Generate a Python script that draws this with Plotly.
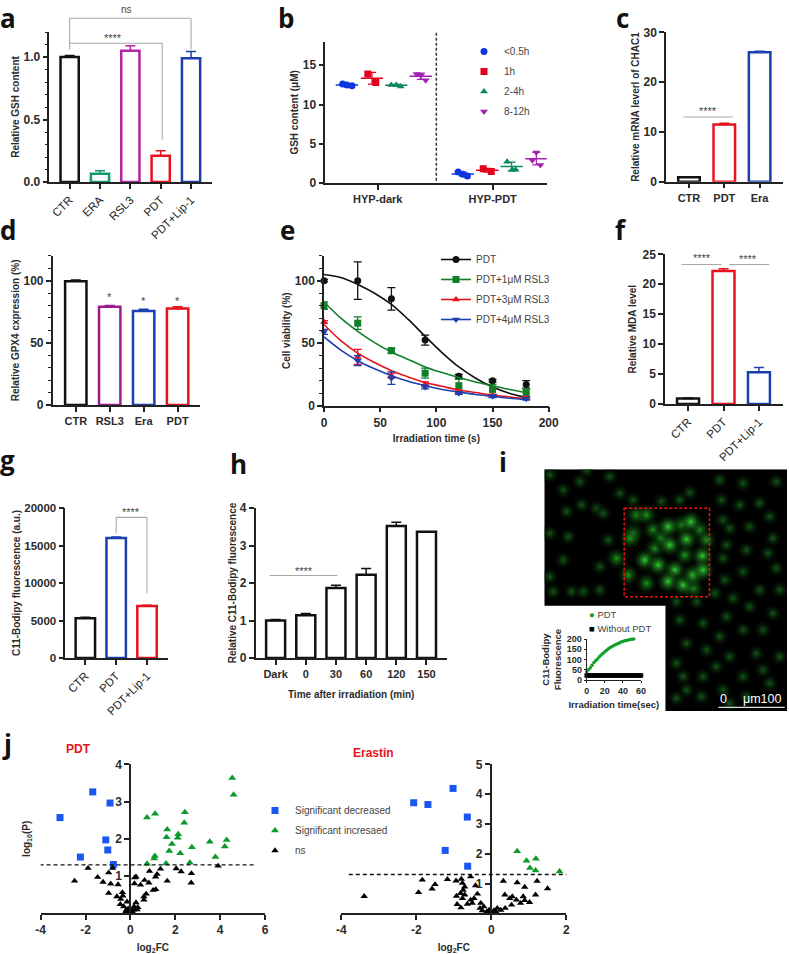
import plotly.graph_objects as go

W, H = 789, 954
FONT = "Liberation Sans"
INK = "#2b2b2b"
GREY = "#a8a8a8"
BLACK, GREEN, MAGENTA, RED, BLUE, PURPLE = "#111111", "#12996E", "#B5259F", "#E8121E", "#1B3FAE", "#9B1B8E"

# ---- panel a
a_labels = ["CTR", "ERA", "RSL3", "PDT", "PDT+Lip-1"]
a_values = [1.0, 0.065, 1.05, 0.21, 0.99]
a_errors = [0.012, 0.025, 0.04, 0.04, 0.055]
a_colors = [BLACK, GREEN, MAGENTA, RED, BLUE]
# ---- panel b
b_names = ["<0.5h", "1h", "2-4h", "8-12h"]
b_x = [[-0.305, -0.268, -0.224, 0.70, 0.74, 0.78], [-0.086, -0.017, 0.918, 0.988],
       [0.117, 0.161, 0.20, 1.126, 1.17, 1.20], [0.338, 0.375, 0.417, 1.345, 1.38, 1.415]]
b_y = [[12.6, 12.5, 12.4, 1.4, 1.1, 0.9], [13.9, 12.8, 1.8, 1.45],
       [12.5, 12.5, 12.3, 2.7, 1.7, 1.7], [13.9, 13.7, 13.1, 2.9, 3.9, 2.3]]
b_mean_x = [[-0.268, 0.74], [-0.05, 0.953], [0.161, 1.165], [0.375, 1.38]]
b_mean_y = [[12.5, 1.15], [13.35, 1.62], [12.45, 2.1], [13.6, 3.1]]
b_sd = [[0.1, 0.25], [0.75, 0.25], [0.12, 0.55], [0.4, 0.8]]
b_colors = ["#0D36E0", "#E3001B", "#0B8A62", "#A020B0"]
b_symbols = ["circle", "square", "triangle-up", "triangle-down"]
# ---- panel c
c_labels = ["CTR", "PDT", "Era"]
c_values = [0.9, 11.5, 26.0]
c_errors = [0.1, 0.25, 0.2]
c_colors = [BLACK, RED, BLUE]
# ---- panel d
d_labels = ["CTR", "RSL3", "Era", "PDT"]
d_values = [99.5, 79.0, 75.5, 77.5]
d_errors = [1.0, 1.0, 1.5, 1.5]
d_colors = [BLACK, PURPLE, BLUE, RED]
# ---- panel e
e_names = ["PDT", "PDT+1μM RSL3", "PDT+3μM RSL3", "PDT+4μM RSL3"]
e_time = [0, 30, 60, 90, 120, 150, 180]
e_values = [[100, 100, 85.5, 52.5, 23.5, 20, 17], [80, 66, 44, 26, 16, 13, 10.5],
            [67, 39, 24, 17, 11, 8, 6], [59, 36, 22, 15, 10, 7.5, 5.5]]
e_errors = [[1, 15, 9, 4, 1.5, 1, 3], [3, 5, 2, 4, 5, 4, 3], [1, 6, 2, 2, 1.5, 1, 1], [2, 4, 5, 1.5, 1, 1, 1]]
e_fit_time = [0, 15, 30, 45, 60, 75, 90, 105, 120, 135, 150, 165, 180]
e_fits = [[105, 102.5, 97, 90, 81, 69, 55.5, 42.5, 31, 22, 15, 10, 6.5],
          [83, 70, 59.5, 50.5, 43, 37, 31, 26.5, 22.5, 19, 16, 13, 10.5],
          [65, 52, 42, 34.5, 28, 23, 18.5, 15.5, 12.5, 10.5, 8.5, 7, 5.5],
          [55, 44.5, 36, 29.5, 24, 19.5, 16, 13, 11, 9, 7.5, 6, 5]]
e_colors = ["#111111", "#0F7F2A", "#E8121E", "#1B3FAE"]
e_symbols = ["circle", "square", "triangle-up", "triangle-down"]
# ---- panel f
f_labels = ["CTR", "PDT", "PDT+Lip-1"]
f_values = [0.9, 22.2, 5.3]
f_errors = [0.1, 0.4, 0.8]
f_colors = [BLACK, RED, BLUE]
# ---- panel g
g_labels = ["CTR", "PDT", "PDT+Lip-1"]
g_values = [5300, 16000, 6950]
g_errors = [150, 150, 100]
g_colors = [BLACK, BLUE, RED]
# ---- panel h
h_labels = ["Dark", "0", "30", "60", "120", "150"]
h_values = [1.0, 1.14, 1.87, 2.22, 3.52, 3.37]
h_errors = [0.03, 0.05, 0.07, 0.17, 0.1, 0.0]
# ---- panel i (inset curve + image blobs, image-crop coordinates)
i_time = list(range(0, 62, 2))
i_pdt = [40, 50, 60, 72, 85, 95, 103, 113, 122, 130, 138, 145, 152, 158, 163, 168, 173, 177, 181, 185, 188,
         191, 193, 195, 197, 199, 200, 202, 203, 205, 206]
i_ctrl = [22, 22, 22, 22, 22, 22, 22, 22, 22, 22, 22, 22, 22, 22, 22, 22, 22, 22, 22, 22, 22, 22, 22, 22, 22,
          22, 22, 22, 22, 22, 22]
bright_x = [345, 385, 420, 415, 470, 483, 518, 435, 415, 460, 490, 520]
bright_y = [330, 345, 285, 230, 268, 215, 318, 360, 395, 405, 375, 360]
mid_x = [375, 350, 310, 320, 350, 300, 295, 465, 370, 510, 490, 530, 260, 455, 395]
mid_y = [295, 400, 250, 195, 195, 265, 375, 315, 240, 240, 415, 270, 325, 225, 265]
dim_x = [60, 150, 155, 110, 60, 115, 200, 220, 235, 100, 60, 125, 70, 210, 210, 160, 480, 310, 395, 450, 575, 630,
         690, 740, 640, 570, 720, 580, 600, 660, 730, 590, 650, 715, 580, 640, 740, 585, 690, 750, 610, 555, 500,
         440, 660, 730, 590, 450, 520, 640, 700, 570, 470, 530, 680, 600, 440, 750, 520, 640, 470, 580, 720, 440,
         600, 700, 560, 460, 515, 650, 270, 170, 100, 240]
dim_y = [75, 95, 165, 185, 250, 260, 175, 190, 270, 330, 380, 425, 425, 350, 420, 425, 128, 150, 155, 150, 150, 165,
         160, 95, 100, 90, 200, 210, 235, 230, 265, 285, 300, 310, 325, 365, 355, 390, 420, 420, 445, 430, 455,
         455, 470, 490, 500, 510, 520, 540, 540, 560, 580, 600, 610, 620, 640, 620, 680, 680, 720, 720, 700, 745,
         760, 660, 650, 680, 740, 740, 130, 60, 120, 80]
# ---- panel j
j1_dec_x = [-1.68, -0.91, -3.14, -1.10, -1.01, -2.23, -0.76]
j1_dec_y = [3.26, 2.96, 2.57, 1.97, 1.70, 1.51, 1.31]
j1_inc_x = [4.54, 4.60, 2.43, 1.10, 0.74, 2.40, 1.64, 2.13, 2.11, 1.61, 1.85, 1.73, 2.22, 2.74, 3.54, 4.29, 4.21, 3.79,
            2.65, 1.59, 1.09, 1.06, 0.74]
j1_inc_y = [3.63, 3.18, 2.71, 2.67, 2.57, 2.43, 2.25, 2.12, 2.03, 2.04, 1.86, 1.67, 1.61, 1.77, 1.92, 1.97, 1.79, 1.51,
            1.36, 1.34, 1.54, 1.47, 1.33]
j1_ns_x = [-1.89, -0.79, -0.97, -1.46, -1.22, -2.49, -0.88, -0.55, -0.97, -0.60, -0.36, -0.34, -0.43, -0.45, -0.15, -0.30,
           -0.18, -0.07, 0, 0.07, 0.15, 0.25, 0.33, 0.16, 0.60, 0.70, 0.60, 1.01, 1.13, 0.82, 0.63, 0.45, 0.18, 0.25, 0.19,
           1.12, 1.19, 1.34, 0.85, 1.64, 2.04, 2.26, 2.72, 2.71, 3.91, -0.2, 0.1, -0.1, 0.05, 0.3]
j1_ns_y = [1.21, 1.21, 1.09, 0.97, 0.84, 0.87, 0.79, 0.77, 0.54, 0.45, 0.56, 0.47, 0.38, 0.24, 0.31, 0.18,
           0.09, 0.04, 0.01, 0.04, 0.09, 0.29, 0.16, 0.18, 0.36, 0.52, 0.45, 0.62, 0.64, 0.82, 0.89, 0.76, 0.80, 0.98, 0.96,
           0.98, 1.05, 1.19, 1.13, 0.87, 1.20, 1.12, 1.07, 0.82, 1.27, 0.05, 0.03, 0.12, 0.08, 0.1]
j2_dec_x = [-1.02, -2.07, -1.69, -0.64, -1.23, -0.63]
j2_dec_y = [4.19, 3.71, 3.65, 3.23, 2.11, 1.58]
j2_inc_x = [0.69, 0.94, 1.19, 1.03, 1.18, 1.82]
j2_inc_y = [2.08, 1.76, 1.83, 1.52, 1.44, 1.40]
j2_ns_x = [-3.39, -1.94, -1.84, -1.50, -1.58, -1.17, -0.94, -0.80, -0.77, -0.71, -0.55, -0.42, -0.75, -0.82, -0.93, -0.71,
           -0.77, -0.91, -0.81, -0.64, -0.55, -0.46, -0.37, -0.51, -0.28, -0.30, -0.20, -0.24, -0.12, -0.06, 0, 0.05, 0.12,
           0.16, 0.25, 0.37, 0.32, 0.69, 0.89, 1.22, 1.50, 1.18, 0.36, 0.49, 0.56, 0.54, 0.67, 0.78, 0.85, 0.89, 1.02,
           -0.06, 0.07]
j2_ns_y = [0.57, 0.70, 1.12, 0.97, 0.82, 1.14, 1.09, 1.15, 1.01, 0.89, 1.23, 0.93, 0.78, 0.67, 0.58, 0.62,
           0.50, 0.30, 0.19, 0.31, 0.45, 0.50, 0.65, 0.34, 0.34, 0.17, 0.22, 0.09, 0.06, 0.01, 0, 0.02, 0.06,
           0.17, 0.11, 0.17, 1.08, 1.03, 0.88, 1.08, 0.83, 0.62, 0.62, 0.50, 0.56, 0.28, 0.45, 0.34, 0.56, 0.43, 0.37,
           0.11, 0.09]
j_threshold = 1.3
j_colors = {"dec": "#1A56F0", "inc": "#0A9A2A", "ns": "#000000"}

fig = go.Figure()
layout = dict(width=W, height=H, margin=dict(l=0, r=0, t=0, b=0), autosize=False, showlegend=True,
              paper_bgcolor="white", plot_bgcolor="rgba(0,0,0,0)", barmode="overlay",
              font=dict(family=FONT, color=INK, size=11))
shapes, notes = [], []
panels = {}


def ax_names(i):
    return ("xaxis" if i == 1 else f"xaxis{i}"), ("yaxis" if i == 1 else f"yaxis{i}")


def axes(i, box, xr, yr, xticks=None, xlabels=None, yticks=None, xangle=0, minor=None, xtitle=None, ytitle=None,
         xstand=6, ystand=6, tickfont=12, xfont=11, ytitlefont=None, xtitlefont=None, lw=1.5, ticklen=5, yfree=None):
    x0, x1, top, bot = box
    panels[i] = dict(box=box, xr=xr, yr=yr)
    xn, yn = ax_names(i)
    base = dict(showline=True, linecolor="#222222", linewidth=lw, ticks="outside", tickcolor="#222222", tickwidth=lw,
                ticklen=ticklen, showgrid=False, zeroline=False, automargin=False)
    xa = dict(base, domain=[x0 / W, x1 / W], range=xr, anchor=f"y{i}", tickmode="array", tickvals=xticks,
              ticktext=xlabels if xlabels else [str(v) for v in xticks], tickangle=xangle,
              tickfont=dict(size=xfont if xangle == 0 else 11.5, weight="bold" if xangle == 0 else "normal",
                            color=INK if xangle == 0 else "#1c1c1c"))
    ya = dict(base, domain=[1 - bot / H, 1 - top / H], range=yr, anchor=f"x{i}", tickmode="array", tickvals=yticks,
              ticktext=[str(v) for v in yticks], tickfont=dict(size=tickfont, weight="bold", color=INK))
    if minor:
        ya["minor"] = dict(dtick=minor, ticks="outside", ticklen=3, tickwidth=1, tickcolor="#222222", showgrid=False)
    if xtitle:
        xa["title"] = dict(text=xtitle, standoff=xstand, font=xtitlefont or dict(size=10, weight="bold", color=INK))
    if ytitle:
        ya["title"] = dict(text=ytitle, standoff=ystand, font=ytitlefont or dict(size=10, weight="bold", color=INK))
    if yfree is not None:
        ya["anchor"] = "free"
        ya["position"] = yfree / W
    layout[xn], layout[yn] = xa, ya


def py(i, v):
    """axis value -> paper fraction (used so marks above the axis range are not clipped)"""
    _, _, top, bot = panels[i]["box"]
    lo, hi = panels[i]["yr"]
    return 1 - (bot - (v - lo) / (hi - lo) * (bot - top)) / H


def bracket(i, xs, ys, color=GREY, width=1.1, dash="solid"):
    xref = "x" if i == 1 else f"x{i}"
    for k in range(len(xs) - 1):
        shapes.append(dict(type="line", xref=xref, yref="paper", x0=xs[k], x1=xs[k + 1], y0=py(i, ys[k]),
                           y1=py(i, ys[k + 1]), line=dict(color=color, width=width, dash=dash)))


def note(i, x, y, text, size=12, color="#444444", weight="normal"):
    xref = "x" if i == 1 else f"x{i}"
    notes.append(dict(xref=xref, yref="paper", x=x, y=py(i, y), text=text, showarrow=False, xanchor="center",
                      yanchor="middle", font=dict(size=size, color=color, weight=weight)))


def letter(ch, x, y):
    notes.append(dict(xref="paper", yref="paper", x=x / W, y=1 - y / H, text=ch, showarrow=False, xanchor="center",
                      yanchor="middle", font=dict(family="Open Sans", size=26, weight="bold", color="#111111")))


def bars(i, values, errors, colors, width):
    xn = "x" if i == 1 else f"x{i}"
    yn = "y" if i == 1 else f"y{i}"
    for k, (v, e, c) in enumerate(zip(values, errors, colors)):
        fig.add_trace(go.Bar(x=[k], y=[v], width=width, xaxis=xn, yaxis=yn, showlegend=False,
                             marker=dict(color="white", line=dict(color=c, width=2.5)),
                             error_y=dict(type="data", symmetric=False, array=[e], arrayminus=[0], color=c,
                                          thickness=1.5, width=5)))


# panel a
axes(1, (49.3, 212, 32, 182), [-0.67, 4.69], [0, 1.2], list(range(5)), a_labels, [0, 0.5, 1.0], xangle=-45, minor=0.1,
     ytitle="Relative GSH content", ystand=2)
layout["yaxis"]["ticktext"] = ["0.0", "0.5", "1.0"]
bars(1, a_values, a_errors, a_colors, 0.6)
bracket(1, [0, 0, 4, 4], [1.06, 1.31, 1.31, 1.06])
bracket(1, [0, 3.05, 3.05], [1.11, 1.11, 0.34])
note(1, 1.86, 1.38, "ns", 10)
note(1, 1.44, 1.15, "****", 11)

# panel b
axes(2, (325.3, 546.7, 41.7, 183), [-0.456, 1.47], [0, 18], [0, 1], ["HYP-dark", "HYP-PDT"], [0, 5, 10, 15],
     ytitle="GSH content (μM)", ystand=2)
for k in range(4):
    fig.add_trace(go.Scatter(x=b_x[k], y=b_y[k], mode="markers", name=b_names[k], xaxis="x2", yaxis="y2",
                             marker=dict(color=b_colors[k], symbol=b_symbols[k], size=7),
                             legend="legend", legendgroup=b_names[k]))
    fig.add_trace(go.Scatter(x=b_mean_x[k], y=b_mean_y[k], mode="markers", showlegend=False, xaxis="x2", yaxis="y2",
                             marker=dict(symbol="line-ew", size=16, line=dict(color=b_colors[k], width=1.5)),
                             error_y=dict(type="data", array=b_sd[k], color=b_colors[k], thickness=1.2, width=4)))
bracket(2, [0.51, 0.51], [0.3, 19.2], color="#333333", width=1.5, dash="3px,2px")
layout["legend"] = dict(x=464 / W, y=1 - 37 / H, xanchor="left", yanchor="top", bgcolor="rgba(0,0,0,0)",
                        font=dict(size=10, color="#444444"), tracegroupgap=1, itemwidth=30)

# panel c
axes(3, (666, 783.3, 32.3, 181.7), [-0.65, 2.67], [0, 30], list(range(3)), c_labels, [0, 10, 20, 30],
     ytitle="Relative mRNA leverl of CHAC1", ystand=2)
bars(3, c_values, c_errors, c_colors, 0.61)
bracket(3, [-0.16, 1.24], [13, 13])
note(3, 0.53, 14.2, "****", 11)

# panel d
axes(4, (52.7, 200, 255.7, 405), [-0.68, 3.66], [0, 120], list(range(4)), d_labels, [0, 50, 100], minor=10,
     ytitle="Relative GPX4 cxpression (%)", ystand=2)
bars(4, d_values, d_errors, d_colors, 0.63)
for xv, yv in zip([1, 2, 3], [86.5, 83.5, 83.5]):
    note(4, xv, yv, "*", 11)

# panel e
axes(5, (324, 548.7, 255.7, 405.7), [0, 200], [0, 120], [0, 50, 100, 150, 200], None, [0, 50, 100], minor=10,
     xtitle="Irradiation time (s)", ytitle="Cell viability (%)", xstand=6, ystand=2, xfont=12)
for k in range(4):
    fig.add_trace(go.Scatter(x=e_fit_time, y=e_fits[k], mode="lines", line=dict(color=e_colors[k], width=1.6, shape="spline"),
                             showlegend=False, xaxis="x5", yaxis="y5"))
    fig.add_trace(go.Scatter(x=e_time, y=e_values[k], mode="markers", showlegend=False, xaxis="x5", yaxis="y5", cliponaxis=False,
                             marker=dict(color=e_colors[k], symbol=e_symbols[k], size=7),
                             error_y=dict(type="data", array=e_errors[k], color=e_colors[k], thickness=1.3, width=4)))
    fig.add_trace(go.Scatter(x=[None], y=[None], mode="lines+markers", name=e_names[k], xaxis="x5", yaxis="y5",
                             line=dict(color=e_colors[k], width=1.6), marker=dict(color=e_colors[k], symbol=e_symbols[k], size=7),
                             legend="legend2", legendgroup="e" + e_names[k]))
layout["legend2"] = dict(x=436 / W, y=1 - 245 / H, xanchor="left", yanchor="top", bgcolor="rgba(0,0,0,0)",
                         font=dict(size=10, color="#444444"), tracegroupgap=1, itemwidth=30)

# panel f
axes(6, (665, 782.7, 254.3, 404), [-0.65, 2.67], [0, 25], list(range(3)), f_labels, [0, 5, 10, 15, 20, 25], xangle=-45,
     ytitle="Relative MDA level", ystand=4)
bars(6, f_values, f_errors, f_colors, 0.62)
bracket(6, [-0.18, 0.94], [23.3, 23.3])
bracket(6, [1.16, 2.29], [23.3, 23.3])
note(6, 0.38, 24.3, "****", 11)
note(6, 1.7, 24.2, "****", 11)

# panel g
axes(7, (65.3, 168.3, 508, 658), [-0.65, 2.69], [0, 20000], list(range(3)), g_labels, [0, 5000, 10000, 15000, 20000], xangle=-45,
     ytitle="C11-Bodipy fluorescence (a.u.)", ystand=2, tickfont=11.5)
bars(7, g_values, g_errors, g_colors, 0.63)
bracket(7, [1, 1, 2, 2], [16620, 18750, 18750, 8620])
note(7, 1.48, 19500, "****", 11)

# panel h
axes(8, (255.7, 446.7, 508, 658), [-0.66, 5.67], [0, 4], list(range(6)), h_labels, [0, 1, 2, 3, 4],
     xtitle="Time after irradiation (min)", ytitle="Relative C11-Bodipy fluorescence", xstand=12, ystand=1)
bars(8, h_values, h_errors, [BLACK] * 6, 0.63)
bracket(8, [-0.19, 2.05], [2.2, 2.2])
note(8, 0.95, 2.33, "****", 11)

# panel i image
axes(9, (544.3, 787, 469.3, 711), [43, 772], [783, 58], [], [], [])
layout["xaxis9"].update(visible=False)
layout["yaxis9"].update(visible=False)
shapes.append(dict(type="path", xref="x9", yref="y9", layer="below", line=dict(width=0), fillcolor="#000000",
                   path="M 43 58 H 772 V 783 H 407 V 467 H 43 Z"))
for cx, cy, col, sz in [(dim_x, dim_y, "rgb(20,90,24)", 20), (mid_x, mid_y, "rgb(28,150,30)", 25),
                        (bright_x, bright_y, "rgb(50,205,50)", 26)]:
    fig.add_trace(go.Scatter(x=cx, y=cy, mode="markers", showlegend=False, xaxis="x9", yaxis="y9",
                             marker=dict(color="rgba(0,0,0,0)", size=sz, line=dict(width=0),
                                         gradient=dict(type="radial", color=col))))
shapes.append(dict(type="rect", xref="x9", yref="y9", x0=283, x1=539, y0=175, y1=440,
                   line=dict(color="#F01010", width=1.5, dash="3px,2px")))
shapes.append(dict(type="line", xref="x9", yref="y9", x0=566, x1=765, y0=772, y1=772, line=dict(color="#dddddd", width=1.2)))
notes.append(dict(xref="x9", yref="y9", x=582, y=747, text="0", showarrow=False, font=dict(size=12.5, color="white")))
notes.append(dict(xref="x9", yref="y9", x=697, y=747, text="μm100", showarrow=False, font=dict(size=12.5, color="white")))

# panel i inset
axes(10, (586.7, 641, 639, 680), [0, 60], [0, 200], [0, 20, 40, 60], None, [0, 50, 100, 150, 200],
     xtitle="Irradiation time(sec)", ytitle="C11-Bodipy<br>Fluorescence", tickfont=9, xfont=9, lw=1, ticklen=2, xstand=6, ystand=3,
     xtitlefont=dict(size=9.5, weight="bold", color=INK), ytitlefont=dict(size=9.5, weight="bold", color=INK))
fig.add_trace(go.Scatter(x=i_time, y=i_pdt, mode="markers", name="PDT", xaxis="x10", yaxis="y10", cliponaxis=False,
                         marker=dict(color="#12A02A", size=3.5), showlegend=False))
fig.add_trace(go.Scatter(x=i_time, y=i_ctrl, mode="markers", name="Without PDT", xaxis="x10", yaxis="y10", cliponaxis=False,
                         marker=dict(color="#000000", size=4.5, symbol="square"), showlegend=False))
notes.append(dict(xref="x9", yref="y9", x=172, y=495, xanchor="left", showarrow=False,
                  text="<span style='color:#12A02A'>●</span> PDT", font=dict(size=9.5, color="#444444")))
notes.append(dict(xref="x9", yref="y9", x=172, y=537, xanchor="left", showarrow=False,
                  text="<span style='color:#000000'>■</span> Without PDT", font=dict(size=9.5, color="#444444")))

# panel j left
axes(11, (40.7, 265, 764.3, 913.3), [-4, 6], [0, 4], [-4, -2, 0, 2, 4, 6], None, [1, 2, 3, 4], yfree=130,
     xtitle="log<sub>2</sub>FC", ytitle="log<sub>10</sub>(P)", xstand=8, ystand=82, xfont=12)
# panel j right
axes(12, (341.3, 566.3, 764.3, 913.3), [-4, 2], [0, 5], [-4, -2, 0, 2], None, [1, 2, 3, 4, 5], yfree=490.7,
     xtitle="log<sub>2</sub>FC", xstand=8, xfont=12)
for i, dx, dy, ix, iy, nx, ny, xend, show in [
    (11, j1_dec_x, j1_dec_y, j1_inc_x, j1_inc_y, j1_ns_x, j1_ns_y, [-4.05, 5.5], True),
    (12, j2_dec_x, j2_dec_y, j2_inc_x, j2_inc_y, j2_ns_x, j2_ns_y, [-3.8, 2.13], False)]:
    xa, ya = f"x{i}", f"y{i}"
    bracket(i, xend, [j_threshold, j_threshold], color="#111111", width=1.4, dash="4px,3px")
    fig.add_trace(go.Scatter(x=dx, y=dy, mode="markers", name="Significant decreased", xaxis=xa, yaxis=ya, showlegend=show,
                             cliponaxis=False, marker=dict(color=j_colors["dec"], symbol="square", size=7),
                             legend="legend4", legendgroup="jdec"))
    fig.add_trace(go.Scatter(x=ix, y=iy, mode="markers", name="Significant incresaed", xaxis=xa, yaxis=ya, showlegend=show,
                             cliponaxis=False, marker=dict(color=j_colors["inc"], symbol="triangle-up", size=7),
                             legend="legend4", legendgroup="jinc"))
    fig.add_trace(go.Scatter(x=nx, y=ny, mode="markers", name="ns", xaxis=xa, yaxis=ya, showlegend=show,
                             cliponaxis=False, marker=dict(color=j_colors["ns"], symbol="triangle-up", size=6.5),
                             legend="legend4", legendgroup="jns"))
layout["legend4"] = dict(x=255 / W, y=1 - 796 / H, xanchor="left", yanchor="top", bgcolor="rgba(0,0,0,0)",
                         font=dict(size=10, color="#444444"), tracegroupgap=1, itemwidth=30)
notes.append(dict(xref="paper", yref="paper", x=64 / W, y=1 - 758 / H, text="PDT", showarrow=False,
                  font=dict(size=12, weight="bold", color="#E8121E")))
notes.append(dict(xref="paper", yref="paper", x=373 / W, y=1 - 762 / H, text="Erastin", showarrow=False,
                  font=dict(size=12, weight="bold", color="#E8121E")))

for ch, x, y in [("a", 8, 18), ("b", 286, 18), ("c", 622, 18), ("d", 8, 230), ("e", 287, 230), ("f", 621, 230),
                 ("g", 8, 460), ("h", 238, 464), ("i", 503, 462), ("j", 7, 744)]:
    letter(ch, x, y)

layout["shapes"] = shapes
layout["annotations"] = notes
fig.update_layout(**layout)
fig.write_html("out.html", config=dict(displayModeBar=False),
               post_script="document.body.style.margin='0';document.body.style.overflow='hidden';")
